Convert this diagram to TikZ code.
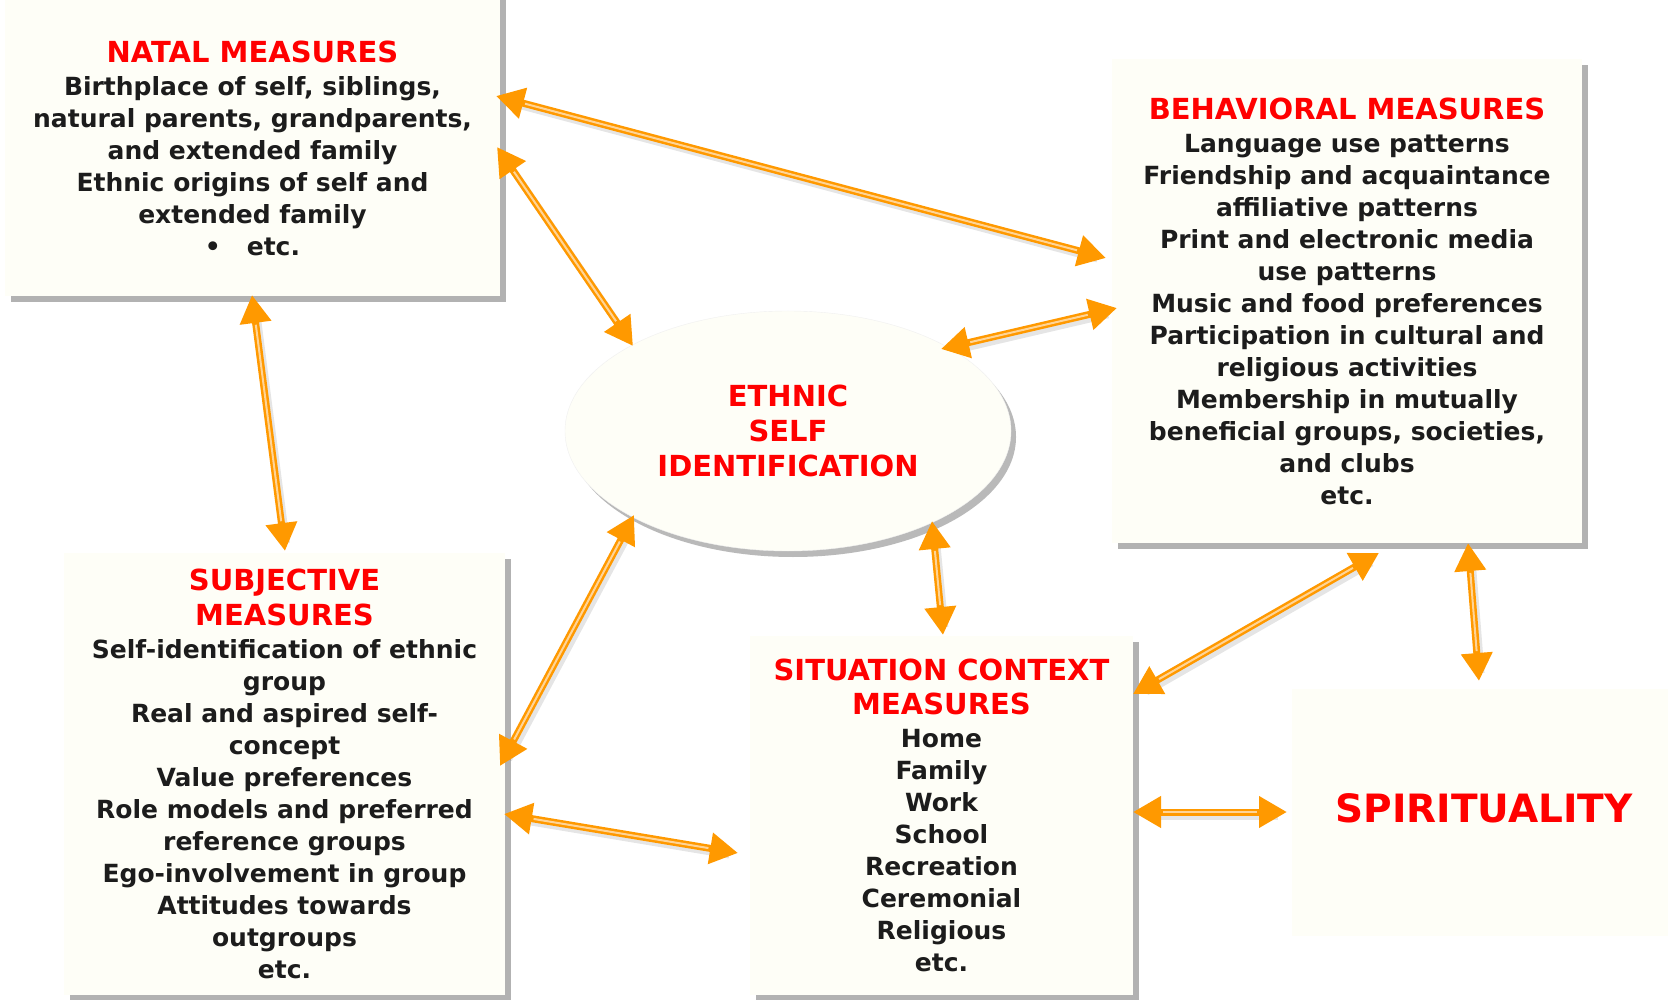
\documentclass[tikz,border=0pt]{standalone}
\usepackage{fontspec}
\setmainfont{DejaVu Sans}
\usetikzlibrary{arrows.meta,shapes.geometric,shadows}
\definecolor{cream}{RGB}{254,254,247}
\definecolor{shadowgray}{RGB}{178,178,178}
\definecolor{orng}{RGB}{255,153,0}
\definecolor{orngl}{RGB}{255,212,150}
\definecolor{txt}{RGB}{28,28,28}
\definecolor{ttl}{RGB}{255,0,0}
\newcommand\biarrow[2]{%
  \draw[arrshadow] (#1) -- (#2);
  \draw[arr] (#1) -- (#2);
  \draw[arrstripe] (#1) -- (#2);}
\newcommand\ttlfont{\color{ttl}\fontsize{29}{35}\selectfont}
\begin{document}
\begin{tikzpicture}[x=1pt,y=-1pt,
  box/.style={fill=cream, inner sep=0pt, align=center, text=txt,
    font=\bfseries\fontsize{25}{32}\selectfont},
  boxtext/.style={inner sep=0pt, align=center, text=txt,
    font=\bfseries\fontsize{25}{32}\selectfont},
  shadowed/.style={drop shadow={shadow xshift=6pt,shadow yshift=-6pt,fill=shadowgray,opacity=1}},
  ellbox/.style={ellipse, fill=cream, draw=gray!12, inner sep=0pt, align=center, text=ttl,
    font=\bfseries\fontsize{29}{35}\selectfont,
    drop shadow={shadow xshift=5pt,shadow yshift=-6pt,fill=shadowgray,opacity=.9}},
  arr/.style={draw=orng, line width=7pt, {Triangle[length=28pt,width=30pt]}-{Triangle[length=28pt,width=30pt]}},
  arrstripe/.style={draw=orngl, line width=2pt, shorten <=30pt, shorten >=30pt},
  arrshadow/.style={draw=black, opacity=.10, line width=7pt, transform canvas={shift={(3pt,-4pt)}}, shorten <=12pt, shorten >=12pt}
]
\useasboundingbox[fill=white] (0,0) rectangle (1668,1000);

% boxes
\node[box, shadowed, minimum width=495, minimum height=312] (natal) at (252.5,140) {};
\node[boxtext] (natalT) at (252.5,148)
  {{\ttlfont NATAL MEASURES}\\[1pt]
   Birthplace of self, siblings,\\
   natural parents, grandparents,\\
   and extended family\\
   Ethnic origins of self and\\
   extended family\\
   •\hspace{26pt}etc.};

\node[box, shadowed, minimum width=470, minimum height=484] (behav) at (1347,301)
  {{\ttlfont BEHAVIORAL MEASURES}\\[1pt]
   Language use patterns\\
   Friendship and acquaintance\\
   affiliative patterns\\
   Print and electronic media\\
   use patterns\\
   Music and food preferences\\
   Participation in cultural and\\
   religious activities\\
   Membership in mutually\\
   beneficial groups, societies,\\
   and clubs\\
   etc.};

\node[box, shadowed, minimum width=441, minimum height=442] (subj) at (284.5,774)
  {{\ttlfont SUBJECTIVE}\\[3pt]
   {\ttlfont MEASURES}\\[1pt]
   Self-identification of ethnic\\
   group\\
   Real and aspired self-\\
   concept\\
   Value preferences\\
   Role models and preferred\\
   reference groups\\
   Ego-involvement in group\\
   Attitudes towards\\
   outgroups\\
   etc.};

\node[box, shadowed, minimum width=383, minimum height=359] (sit) at (941.5,815.5)
  {{\ttlfont SITUATION CONTEXT}\\[2pt]
   {\ttlfont MEASURES}\\[1pt]
   Home\\
   Family\\
   Work\\
   School\\
   Recreation\\
   Ceremonial\\
   Religious\\
   etc.};

\node[box, minimum width=376, minimum height=247] (spirit) at (1480,812.5) {};
\node[text=ttl, font=\bfseries\fontsize{39}{45}\selectfont, inner sep=0pt] (spiritT) at (1484,808) {SPIRITUALITY};

\node[ellbox, minimum width=446, minimum height=240] (ethnic) at (788,431)
  {ETHNIC\\SELF\\IDENTIFICATION};

% arrow end points
\coordinate (a1s) at (496,96);   \coordinate (a1e) at (1106,258);
\coordinate (a2s) at (497,147);  \coordinate (a2e) at (633,346);
\coordinate (a3s) at (252,295);  \coordinate (a3e) at (285,551);
\coordinate (a4s) at (941,349);  \coordinate (a4e) at (1117,308);
\coordinate (a5s) at (500,766);  \coordinate (a5e) at (634,515);
\coordinate (a6s) at (932,521);  \coordinate (a6e) at (943,635);
\coordinate (a7s) at (1379,553); \coordinate (a7e) at (1133,694);
\coordinate (a8s) at (1468,543); \coordinate (a8e) at (1479,681);
\coordinate (a9s) at (504,814);  \coordinate (a9e) at (738,853);
\coordinate (a10s) at (1133,812); \coordinate (a10e) at (1287,812);

\biarrow{a1s}{a1e}
\biarrow{a2s}{a2e}
\biarrow{a3s}{a3e}
\biarrow{a4s}{a4e}
\biarrow{a5s}{a5e}
\biarrow{a6s}{a6e}
\biarrow{a7s}{a7e}
\biarrow{a8s}{a8e}
\biarrow{a9s}{a9e}
\biarrow{a10s}{a10e}
\end{tikzpicture}
\end{document}
